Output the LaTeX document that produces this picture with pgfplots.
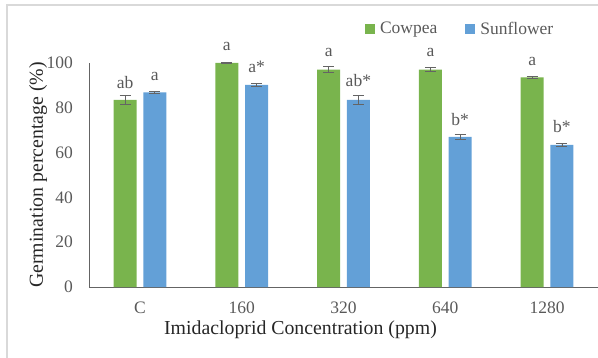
\documentclass[border=0pt]{standalone}
\usepackage{pgfplots}
\pgfplotsset{compat=1.18}
\usepackage{pgfplotstable}
\usepackage{fontspec}
\setmainfont{Liberation Serif}
\definecolor{cgreen}{RGB}{121,180,77}
\definecolor{cblue}{RGB}{99,160,215}
\definecolor{txtgray}{RGB}{89,89,89}
\definecolor{axgray}{RGB}{100,100,100}
\definecolor{framegray}{RGB}{217,217,217}

\pgfplotstableread{
x y e
-0.146 83.5 2.0
0.854 100.0 0.4
1.854 97.0 1.3
2.854 97.0 0.8
3.854 93.6 0.5
}\cowpea
\pgfplotstableread{
x y e
0.146 86.9 0.5
1.146 90.2 0.6
2.146 83.5 2.0
3.146 67.0 1.3
4.146 63.4 0.7
}\sunflower
\pgfplotstableread{
x y lab
-0.146 88.7 ab
0.854 105.5 a
1.854 102.8 a
2.854 102.8 a
3.854 99.1 a
}\cowlab
\pgfplotstableread{
x y lab
0.146 92.4 a
1.146 95.7 a*
2.146 89.4 ab*
3.146 72.3 b*
4.146 69.1 b*
}\sunlab

\begin{document}
\begin{tikzpicture}
\useasboundingbox (0,0) rectangle (598bp,358bp);
\draw[framegray, line width=1.5bp] (7bp,0bp) -- (7bp,353bp) -- (598bp,353bp);
\begin{axis}[
  at={(89bp,71bp)}, anchor=south west,
  scale only axis, width=509bp, height=224bp,
  xmin=-0.5, xmax=4.5, ymin=0, ymax=100,
  clip=false,
  axis x line*=bottom, axis y line*=left,
  axis line style={axgray, line width=1bp, -},
  xtick={0,1,2,3,4}, xticklabels={C,160,320,640,1280},
  ytick={0,20,40,60,80,100},
  major tick length=0pt,
  /pgf/number format/assume math mode=true,
  ticklabel style={font=\fontsize{17.5bp}{21bp}\selectfont, text=txtgray, inner sep=0pt},
  xticklabel style={anchor=base, yshift=-26bp},
  yticklabel style={anchor=east, xshift=-16bp},
  xlabel={Imidacloprid Concentration (ppm)},
  ylabel={Germination percentage (\%)},
  label style={font=\fontsize{19.8bp}{24bp}\selectfont, text=black!85},
  xlabel style={at={(axis description cs:0.4155,-0.192)}, anchor=center},
  ylabel style={at={(axis description cs:-0.10,0.5)}, anchor=center, rotate=0},
  legend columns=2,
  legend style={draw=none, fill=none, at={(rel axis cs:0.542,1.152)}, anchor=west,
    font=\fontsize{17.5bp}{21bp}\selectfont, text=txtgray, inner sep=0pt,
    /tikz/every even column/.append style={column sep=26bp}},
  legend cell align=left,
  legend image code/.code={\fill[#1] (0bp,-5bp) rectangle (10bp,5bp); \path (13bp,0bp);},
  error bars/error bar style={line width=0.9bp, color=axgray},
  error bars/error mark options={rotate=90, mark size=5.5bp, line width=0.9bp, color=axgray},
]
\addplot[ybar, bar width=0.226, bar shift=0pt, fill=cgreen, draw=none,
  error bars/.cd, y dir=both, y explicit] table[x=x, y=y, y error=e] {\cowpea};
\addlegendentry{Cowpea}
\addplot[ybar, bar width=0.226, bar shift=0pt, fill=cblue, draw=none,
  error bars/.cd, y dir=both, y explicit] table[x=x, y=y, y error=e] {\sunflower};
\addlegendentry{Sunflower}
\addplot[only marks, mark=none, nodes near coords, point meta=explicit symbolic,
  every node near coord/.append style={anchor=base, text=txtgray, inner sep=0pt,
  font=\fontsize{17.5bp}{21bp}\selectfont}, forget plot] table[x=x, y=y, meta=lab] {\cowlab};
\addplot[only marks, mark=none, nodes near coords, point meta=explicit symbolic,
  every node near coord/.append style={anchor=base, text=txtgray, inner sep=0pt,
  font=\fontsize{17.5bp}{21bp}\selectfont}, forget plot] table[x=x, y=y, meta=lab] {\sunlab};
\end{axis}
\end{tikzpicture}
\end{document}
